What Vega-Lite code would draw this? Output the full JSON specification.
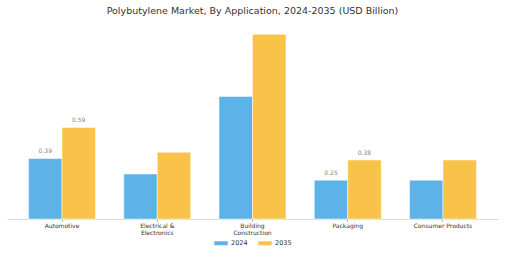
{
  "$schema": "https://vega.github.io/schema/vega-lite/v6.json",
  "autosize": "none",
  "width": 491,
  "height": 194,
  "padding": {"left": 7, "right": 7, "top": 25, "bottom": 34},
  "background": "white",
  "config": {
    "view": {"stroke": null},
    "font": "DejaVu Sans",
    "legend": {"layout": {"bottom": {"anchor": "middle"}}}
  },
  "title": {
    "text": "Polybutylene Market, By Application, 2024-2035 (USD Billion)",
    "fontSize": 9.5,
    "fontWeight": "normal",
    "color": "#333333",
    "anchor": "middle",
    "offset": 10
  },
  "data": {
    "values": [
      {"app": "Automotive", "year": "2024", "value": 0.39},
      {"app": "Automotive", "year": "2035", "value": 0.59},
      {"app": "Electrical & Electronics", "year": "2024", "value": 0.29},
      {"app": "Electrical & Electronics", "year": "2035", "value": 0.43},
      {"app": "Building Construction", "year": "2024", "value": 0.79},
      {"app": "Building Construction", "year": "2035", "value": 1.19},
      {"app": "Packaging", "year": "2024", "value": 0.25},
      {"app": "Packaging", "year": "2035", "value": 0.38},
      {"app": "Consumer Products", "year": "2024", "value": 0.25},
      {"app": "Consumer Products", "year": "2035", "value": 0.38}
    ]
  },
  "encoding": {
    "x": {
      "field": "app",
      "type": "nominal",
      "sort": null,
      "title": null,
      "scale": {"paddingInner": 0.297, "paddingOuter": 0.226},
      "axis": {
        "labelAngle": 0,
        "labelFontSize": 6,
        "labelColor": "#333333",
        "labelPadding": 1.5,
        "labelLineHeight": 7,
        "domainColor": "#dddddd",
        "tickColor": "#999999",
        "tickSize": 2,
        "labelExpr": "datum.label == 'Electrical & Electronics' ? ['Electrical &', 'Electronics'] : datum.label == 'Building Construction' ? ['Building', 'Construction'] : datum.label"
      }
    },
    "xOffset": {"field": "year", "type": "nominal", "scale": {"paddingInner": 0, "paddingOuter": 0}},
    "y": {
      "field": "value",
      "type": "quantitative",
      "scale": {"domain": [0, 1.25], "nice": false},
      "axis": null
    }
  },
  "layer": [
    {
      "mark": {"type": "bar", "stroke": "white", "strokeWidth": 0.5},
      "encoding": {
        "color": {
          "field": "year",
          "type": "nominal",
          "scale": {"domain": ["2024", "2035"], "range": ["#5DB3E8", "#F9C34A"]},
          "legend": {
            "orient": "bottom",
            "direction": "horizontal",
            "title": null,
            "offset": 0,
            "labelFontSize": 6.5,
            "labelColor": "#333333",
            "symbolType": "M-1,-0.3L1,-0.3L1,0.3L-1,0.3Z",
            "symbolSize": 180,
            "symbolStrokeWidth": 0,
            "columnPadding": 10,
            "labelOffset": 3
          }
        }
      }
    },
    {
      "transform": [{"filter": "datum.app == 'Automotive' || datum.app == 'Packaging'"}],
      "mark": {"type": "text", "dy": -4, "fontSize": 6, "color": "#888888", "baseline": "bottom"},
      "encoding": {
        "text": {"field": "value", "type": "quantitative", "format": ".2f"}
      }
    }
  ]
}
